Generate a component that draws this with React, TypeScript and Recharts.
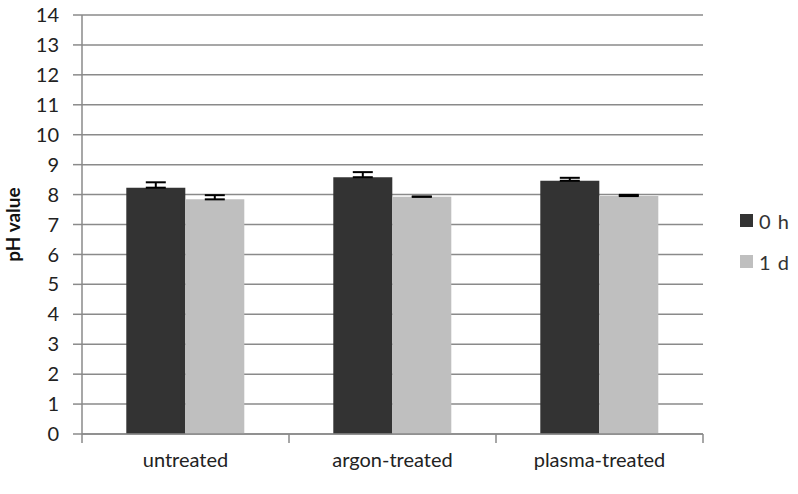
import React from "react";
import { BarChart, Bar, XAxis, YAxis, CartesianGrid, ErrorBar, Legend } from "recharts";

const categories = ["untreated", "argon-treated", "plasma-treated"];
const series0h = [8.23, 8.58, 8.46];
const series1d = [7.84, 7.93, 7.95];
const err0h = [0.18, 0.17, 0.1];
const err1d = [0.14, 0.0, 0.04];
const yTicks = [0, 1, 2, 3, 4, 5, 6, 7, 8, 9, 10, 11, 12, 13, 14];

const data = categories.map((c, i) => ({
  name: c,
  h0: series0h[i],
  d1: series1d[i],
  e0: [0, err0h[i]],
  e1: [0, err1d[i]],
}));

const FONT = "Lato, 'Open Sans', sans-serif";
const DARK = "#333333";
const LIGHT = "#bfbfbf";
const GRID = "#8a8a8a";
const X_TICK_MARGIN = 19;

const CategoryTick = (props: any) => {
  const { x, y, payload, index, width } = props;
  const half = width / (2 * categories.length);
  const axisY = y - X_TICK_MARGIN;
  const isLast = index === categories.length - 1;
  return (
    <g>
      <line x1={x - half} x2={x - half} y1={axisY} y2={axisY + 9} stroke={GRID} strokeWidth={1.5} />
      {isLast && (
        <line x1={x + half} x2={x + half} y1={axisY} y2={axisY + 9} stroke={GRID} strokeWidth={1.5} />
      )}
      <text
        x={x}
        y={y}
        dy="0.71em"
        textAnchor="middle"
        fontFamily={FONT}
        fontSize={20}
        fill="#222"
      >
        {payload.value}
      </text>
    </g>
  );
};

const LegendContent = (props: any) => {
  const items = [
    { label: "0 h", color: DARK },
    { label: "1 d", color: LIGHT },
  ];
  return (
    <div style={{ fontFamily: FONT, fontSize: 20, color: "#333" }}>
      {items.map((it) => (
        <div key={it.label} style={{ display: "flex", alignItems: "center", height: 41 }}>
          <div style={{ width: 13, height: 13, background: it.color, marginRight: 6 }} />
          <span style={{ letterSpacing: 1 }}>{it.label}</span>
        </div>
      ))}
    </div>
  );
};

export default function App() {
  return (
    <div style={{ position: "absolute", left: 0, top: 0, background: "#fff" }}>
      <BarChart
        width={798}
        height={494}
        data={data}
        margin={{ top: 15, right: 95, bottom: 0, left: 0 }}
        barCategoryGap="21.4%"
        barGap={0}
      >
        <CartesianGrid horizontal vertical={false} stroke={GRID} strokeWidth={1.5} />
        <XAxis
          dataKey="name"
          tickLine={false}
          tickSize={0}
          axisLine={{ stroke: GRID, strokeWidth: 1.5 }}
          tick={<CategoryTick />}
          tickMargin={X_TICK_MARGIN}
          height={60}
          interval={0}
        />
        <YAxis
          domain={[0, 14]}
          ticks={yTicks}
          interval={0}
          width={82}
          tickSize={9}
          tickMargin={14}
          axisLine={{ stroke: GRID, strokeWidth: 1.5 }}
          tickLine={{ stroke: GRID, strokeWidth: 1.5 }}
          tick={{ fontFamily: FONT, fontSize: 20, fill: "#222" }}
          label={{
            value: "pH value",
            angle: -90,
            position: "insideLeft",
            offset: 0,
            dx: 13,
            style: { fontFamily: FONT, fontSize: 19, fontWeight: "bold", fill: "#111", textAnchor: "middle" },
          }}
        />
        <Legend
          layout="vertical"
          align="center"
          verticalAlign="middle"
          content={<LegendContent />}
          wrapperStyle={{ left: 740, top: 200, width: 60 }}
        />
        <Bar dataKey="h0" name="0 h" fill={DARK} isAnimationActive={false}>
          <ErrorBar dataKey="e0" width={10} stroke="#000" strokeWidth={2} direction="y" />
        </Bar>
        <Bar dataKey="d1" name="1 d" fill={LIGHT} isAnimationActive={false}>
          <ErrorBar dataKey="e1" width={10} stroke="#000" strokeWidth={2} direction="y" />
        </Bar>
      </BarChart>
    </div>
  );
}
